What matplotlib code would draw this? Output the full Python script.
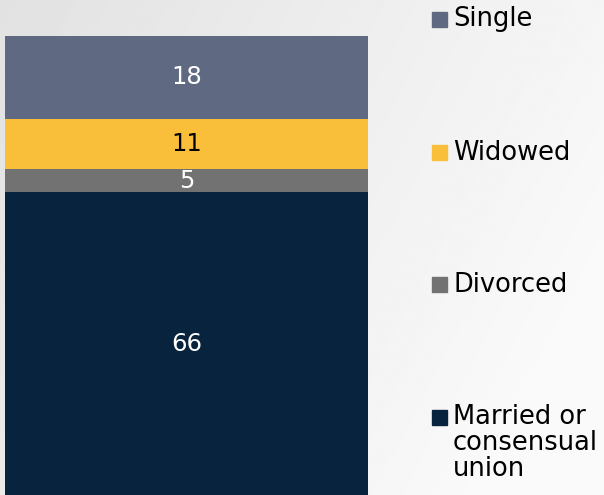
import numpy as np
import matplotlib.pyplot as plt
from matplotlib.patches import Rectangle

# marital status shares (%), stacked bottom -> top
categories = ["Married or\nconsensual\nunion", "Divorced", "Widowed", "Single"]
values = [66, 5, 11, 18]
colors = ["#08233d", "#727272", "#fabf3a", "#5f6a82"]
text_colors = ["white", "white", "black", "white"]

W, H = 604, 495
fig = plt.figure(figsize=(W / 100, H / 100), dpi=100)

# soft grey-to-white backdrop
bg = fig.add_axes([0, 0, 1, 1])
xx, yy = np.meshgrid(np.linspace(0, 1, 300), np.linspace(0, 1, 300))
shade = 0.885 + 0.095 * np.clip(0.8 * xx + 0.35 * (1 - yy), 0, 1)
bg.imshow(shade, cmap="gray", vmin=0, vmax=1, aspect="auto",
          extent=[0, 1, 0, 1], origin="lower")
bg.set_axis_off()

ax = fig.add_axes([5 / W, 0, (368 - 5) / W, (H - 36) / H])
ax.patch.set_alpha(0)
bottom = 0
for v, c, tc in zip(values, colors, text_colors):
    ax.bar(0, v, width=1, bottom=bottom, color=c)
    ax.text(0, bottom + v / 2, str(v), ha="center", va="center",
            color=tc, fontsize=17.5)
    bottom += v
ax.set_xlim(-0.5, 0.5)
ax.set_ylim(0, sum(values))
ax.set_axis_off()

# legend entries, top to bottom (square centre in pixels from top)
legend_y = [19.5, 152.5, 284.5, 417]
for y, lab, c in zip(legend_y, categories[::-1], colors[::-1]):
    fig.add_artist(Rectangle((432 / W, 1 - (y + 7.5) / H), 15 / W, 15 / H,
                             transform=fig.transFigure, color=c))
    if "\n" in lab:
        fig.text(453 / W, 1 - (y - 12.5) / H, lab, ha="left", va="top",
                 fontsize=18.5, color="black", linespacing=1.0)
    else:
        fig.text(453 / W, 1 - y / H, lab, ha="left", va="center",
                 fontsize=18.5, color="black")

fig.savefig("out.png", dpi=100)
